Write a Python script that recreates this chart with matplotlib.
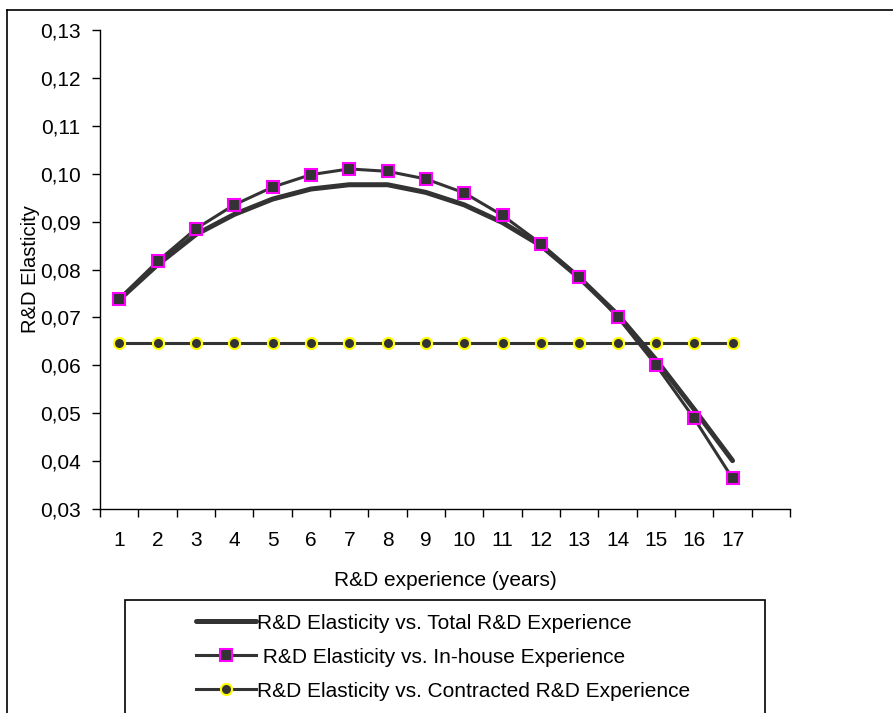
import matplotlib.pyplot as plt
from matplotlib.lines import Line2D
from matplotlib.patches import Rectangle

plt.rcParams['font.family'] = ['Liberation Sans', 'DejaVu Sans']

years = list(range(1, 18))
total = [0.0737, 0.0810, 0.0873, 0.0915, 0.0947, 0.0968, 0.0977, 0.0977, 0.0961,
         0.0935, 0.0898, 0.0850, 0.0783, 0.0706, 0.0612, 0.0508, 0.0401]
inhouse = [0.0739, 0.0817, 0.0885, 0.0935, 0.0972, 0.0998, 0.1010, 0.1005, 0.0989,
           0.0960, 0.0913, 0.0854, 0.0785, 0.0701, 0.0601, 0.0489, 0.0364]
contracted = [0.0646, 0.0646, 0.0646, 0.0646, 0.0646, 0.0646, 0.0646, 0.0646, 0.0646,
              0.0646, 0.0646, 0.0646, 0.0646, 0.0646, 0.0646, 0.0646, 0.0646]
yticks = [0.03, 0.04, 0.05, 0.06, 0.07, 0.08, 0.09, 0.10, 0.11, 0.12, 0.13]
ytick_labels = ['0,03', '0,04', '0,05', '0,06', '0,07', '0,08', '0,09', '0,10', '0,11', '0,12', '0,13']

labels = ['R&D Elasticity vs. Total R&D Experience',
          ' R&D Elasticity vs. In-house Experience',
          'R&D Elasticity vs. Contracted R&D Experience']

dark = '#333333'
fs = 15

fig = plt.figure(figsize=(8.93, 7.13), dpi=100)
ax = fig.add_axes([0.112, 0.2861, 0.7727, 0.6718])

ax.plot(years, total, color=dark, lw=3.6, solid_capstyle='round', label=labels[0])
ax.plot(years, inhouse, color=dark, lw=2.2, marker='s', ms=8, mfc=dark,
        mec='#ff00ff', mew=1.5, label=labels[1])
ax.plot(years, contracted, color=dark, lw=2.2, marker='o', ms=8, mfc=dark,
        mec='#ffff00', mew=1.5, label=labels[2])

ax.set_xlim(0.5, 18.5)
ax.set_ylim(0.03, 0.13)
ax.set_yticks(yticks)
ax.set_yticklabels(ytick_labels)
ax.set_xticks(years)
ax.set_xticklabels([str(y) for y in years])
ax.set_xticks([i + 0.5 for i in range(0, 19)], minor=True)
ax.tick_params(axis='x', which='major', length=0, pad=16, labelsize=fs)
ax.tick_params(axis='x', which='minor', length=6, width=1, direction='out')
ax.tick_params(axis='y', length=6, width=1, pad=8, labelsize=fs)
for s in ['top', 'right']:
    ax.spines[s].set_visible(False)
for s in ['left', 'bottom']:
    ax.spines[s].set_linewidth(1)

ax.set_ylabel('R&D Elasticity', fontsize=14.5, labelpad=0)
ax.set_xlabel('R&D experience (years)', fontsize=fs, labelpad=15)

# outer chart border (left + top)
fig.add_artist(Line2D([7 / 893, 7 / 893], [0, 1 - 10 / 713], color='black', lw=1.2))
fig.add_artist(Line2D([7 / 893, 1], [1 - 10 / 713, 1 - 10 / 713], color='black', lw=1.2))

# legend box
fig.add_artist(Rectangle((125 / 893, -0.05), (765 - 125) / 893, 0.05 + 1 - 600 / 713,
                         fill=False, edgecolor='black', lw=1.2))
leg = fig.legend(loc='upper left', bbox_to_anchor=(177 / 893, 1 - 595 / 713),
                 frameon=False, fontsize=fs, handlelength=2.9, handletextpad=0.05,
                 labelspacing=0.72)

fig.savefig('out.png', dpi=100)
